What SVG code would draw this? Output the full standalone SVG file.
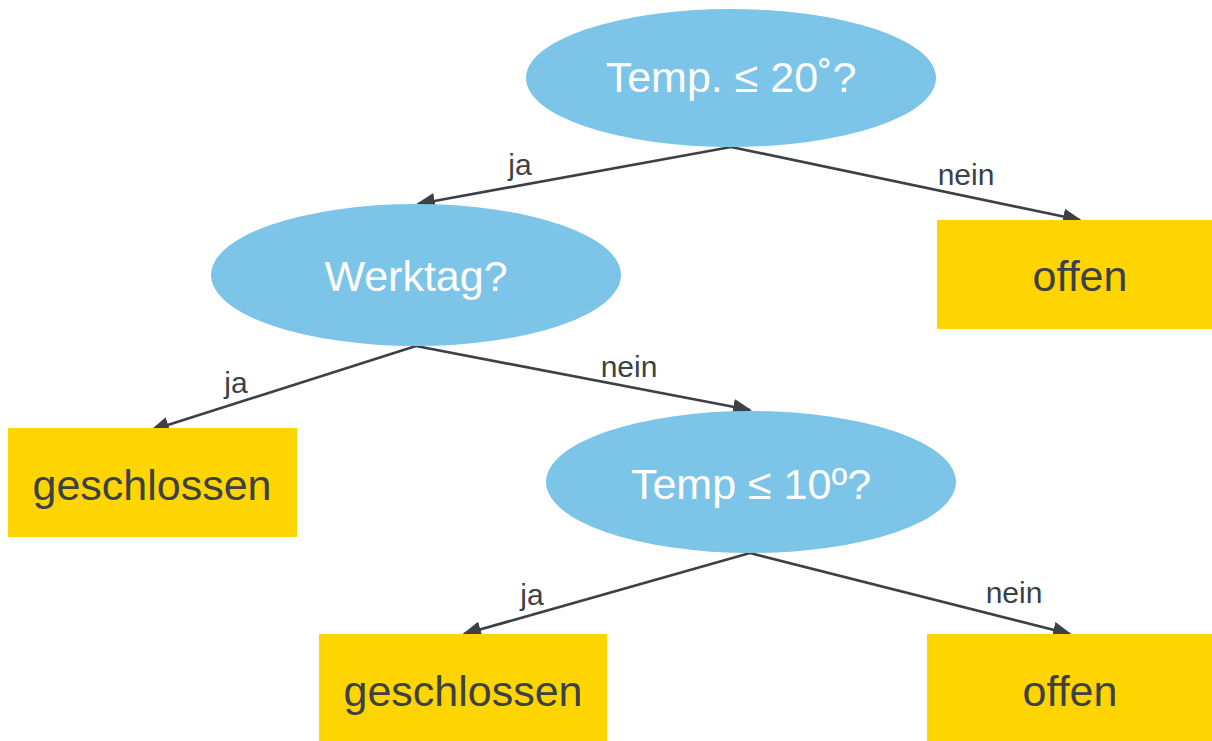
<svg xmlns="http://www.w3.org/2000/svg" width="1212" height="741" viewBox="0 0 1212 741">
<style>
.dec{fill:#7DC5E8}
.leaf{fill:#FFD500}
.nt{font-family:"Liberation Sans",Arial,sans-serif;font-size:43px;text-anchor:middle}
.w{fill:#FFFFFF}
.d{fill:#3C4148}
.lbl{font-family:"Liberation Sans",Arial,sans-serif;font-size:30px;text-anchor:middle;fill:#3C4148}
.edge{stroke:#3C4148;stroke-width:2.7;fill:none;marker-end:url(#arr)}
</style>
<defs>
<marker id="arr" markerUnits="userSpaceOnUse" markerWidth="20" markerHeight="16" refX="17" refY="8" orient="auto">
<path d="M0,0 L19,8 L0,16 z" fill="#3C4148"/>
</marker>
</defs>
<rect width="1212" height="741" fill="#FFFFFF"/>
<g id="connectors">
<line class="edge" x1="731" y1="147" x2="418" y2="204"/>
<line class="edge" x1="731" y1="147" x2="1080" y2="220"/>
<line class="edge" x1="416" y1="346" x2="152" y2="430"/>
<line class="edge" x1="416" y1="346" x2="750" y2="410"/>
<line class="edge" x1="750" y1="553" x2="464" y2="634"/>
<line class="edge" x1="750" y1="553" x2="1070" y2="634"/>
<text class="lbl" x="520" y="175">ja</text>
<text class="lbl" x="966" y="185">nein</text>
<text class="lbl" x="236" y="393">ja</text>
<text class="lbl" x="629" y="377">nein</text>
<text class="lbl" x="532" y="605">ja</text>
<text class="lbl" x="1014" y="603">nein</text>
</g>
<g id="n1">
<ellipse class="dec" cx="731" cy="78" rx="205" ry="69"/>
<text class="nt w" x="731" y="92">Temp. ≤ 20˚?</text>
</g>
<g id="n2">
<ellipse class="dec" cx="416" cy="275" rx="205" ry="71"/>
<text class="nt w" x="416" y="291">Werktag?</text>
</g>
<g id="n3">
<rect class="leaf" x="937" y="220" width="275" height="109"/>
<text class="nt d" x="1080" y="291">offen</text>
</g>
<g id="n4">
<rect class="leaf" x="8" y="428" width="289" height="109"/>
<text class="nt d" x="152" y="500">geschlossen</text>
</g>
<g id="n5">
<ellipse class="dec" cx="751" cy="482" rx="205" ry="71"/>
<text class="nt w" x="751" y="499">Temp ≤ 10º?</text>
</g>
<g id="n6">
<rect class="leaf" x="319" y="634" width="288" height="107"/>
<text class="nt d" x="463" y="706">geschlossen</text>
</g>
<g id="n7">
<rect class="leaf" x="927" y="634" width="285" height="107"/>
<text class="nt d" x="1070" y="706">offen</text>
</g>
</svg>
